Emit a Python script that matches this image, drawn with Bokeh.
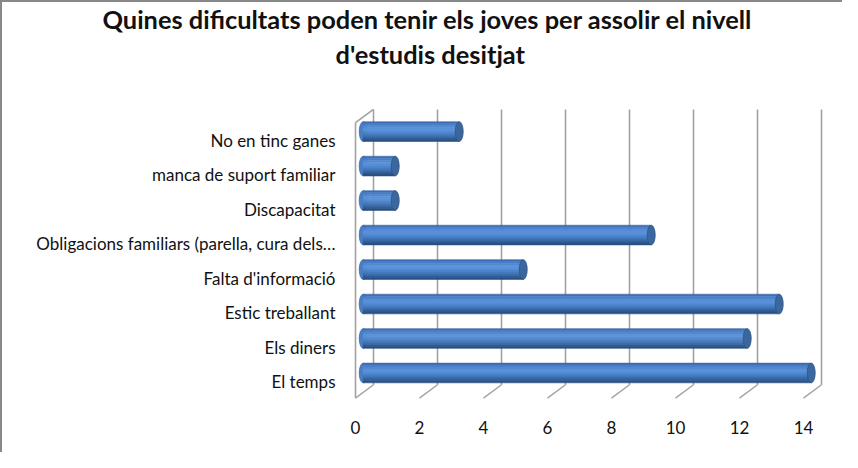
from bokeh.plotting import figure
from bokeh.models import FixedTicker, Title
from bokeh.embed import file_html
from bokeh.resources import INLINE

# ---- data ----
categories = ["El temps", "Els diners", "Estic treballant", "Falta d'informació",
              "Obligacions familiars (parella, cura dels…", "Discapacitat",
              "manca de suport familiar", "No en tinc ganes"]
values = [14, 12, 13, 5, 9, 1, 1, 3]
x_ticks = [0, 2, 4, 6, 8, 10, 12, 14]
title_lines = ["Quines dificultats poden tenir els joves per assolir el nivell",
               "d'estudis desitjat"]

# ---- geometry (pixel sizes converted to data units) ----
XPX = 32.0   # px per value unit
YPX = 35.0   # px per category row
DX = 18.0 / XPX          # depth offset in x (front -> back)
DY = 13.5 / YPX          # depth offset in y (front -> back)
FRONT_BOTTOM = -16.5 / YPX
FRONT_TOP = 263.0 / YPX
BAR_H = 20.0 / YPX
BAR_DY = 9.0 / YPX
BAR_DX = 7.7 / XPX
CAP_W = 8.0 / XPX
X0 = -2.0 / XPX
Y0 = -23.0 / YPX
TOP = 64
FRAME_H = 452 - TOP - 50

p = figure(width=842, height=452, output_backend="svg", toolbar_location=None,
           x_range=(X0, X0 + 491.0 / XPX),
           y_range=(Y0, Y0 + FRAME_H / YPX),
           min_border_left=351, min_border_right=0, min_border_top=TOP, min_border_bottom=50,
           outline_line_color=None, background_fill_color="white", border_fill_color="white")
p.grid.visible = False

# title (two lines, second added last -> outermost)
for txt, off, so in [(title_lines[1], -18, 6), (title_lines[0], -251, -1)]:
    p.add_layout(Title(text=txt, align="left", offset=off, standoff=so, text_font="Lato",
                       text_font_size="25.4px", text_font_style="bold",
                       text_color="#111111"), "above")

# walls & floor
back_bottom = FRONT_BOTTOM + DY
back_top = FRONT_TOP + DY
grid_col = "#a2a2a2"
p.segment(x0=[t + DX for t in x_ticks], y0=[back_bottom] * len(x_ticks),
          x1=[t + DX for t in x_ticks], y1=[back_top] * len(x_ticks),
          line_color=grid_col, line_width=1.6)
p.segment(x0=[t + DX for t in x_ticks], y0=[back_bottom] * len(x_ticks),
          x1=x_ticks, y1=[FRONT_BOTTOM] * len(x_ticks),
          line_color=grid_col, line_width=1.4)
p.segment(x0=[0, 0], y0=[FRONT_BOTTOM, FRONT_TOP], x1=[0, DX], y1=[FRONT_TOP, back_top],
          line_color=grid_col, line_width=1.6)

# cylinders
rows = list(range(len(categories)))
centers = [r + BAR_DY for r in rows]
rights = [v + BAR_DX for v in values]
p.ellipse(x=[BAR_DX] * len(rows), y=centers, width=CAP_W, height=BAR_H,
          fill_color="#4a7ec4", line_color="#3c6cae", line_width=0.8)
strip_cols = ["#3d6cb0", "#4a7dc6", "#5288d0", "#5a92da", "#5890d8",
              "#4f86cd", "#467bbf", "#3d6eae", "#335f98", "#2a5083"]
n = len(strip_cols)
sh = BAR_H / n
for k, c in enumerate(strip_cols):
    p.hbar(y=[cy + BAR_H / 2 - sh * (k + 0.5) for cy in centers], height=sh,
           left=BAR_DX, right=rights, fill_color=c, line_color=c, line_width=0.6)
p.ellipse(x=rights, y=centers, width=CAP_W, height=BAR_H,
          fill_color="#3b679e", line_color="#2d5585", line_width=0.8)

# axes
p.xaxis.ticker = FixedTicker(ticks=x_ticks)
p.xaxis.axis_line_color = None
p.xaxis.major_tick_line_color = None
p.xaxis.minor_tick_line_color = None
p.xaxis.major_label_standoff = 10
p.xaxis.major_label_text_font = "Lato"
p.xaxis.major_label_text_font_size = "17px"
p.xaxis.major_label_text_color = "#111111"

p.yaxis.ticker = FixedTicker(ticks=rows)
p.yaxis.major_label_overrides = {r: c for r, c in zip(rows, categories)}
p.yaxis.axis_line_color = None
p.yaxis.major_tick_line_color = None
p.yaxis.minor_tick_line_color = None
p.yaxis.major_label_standoff = 12
p.yaxis.major_label_text_font = "Lato"
p.yaxis.major_label_text_font_size = "17px"
p.yaxis.major_label_text_color = "#111111"

p.styles = {"border-left": "2px solid #888888", "border-top": "2px solid #888888"}

open("out.html", "w").write(file_html(p, INLINE))
